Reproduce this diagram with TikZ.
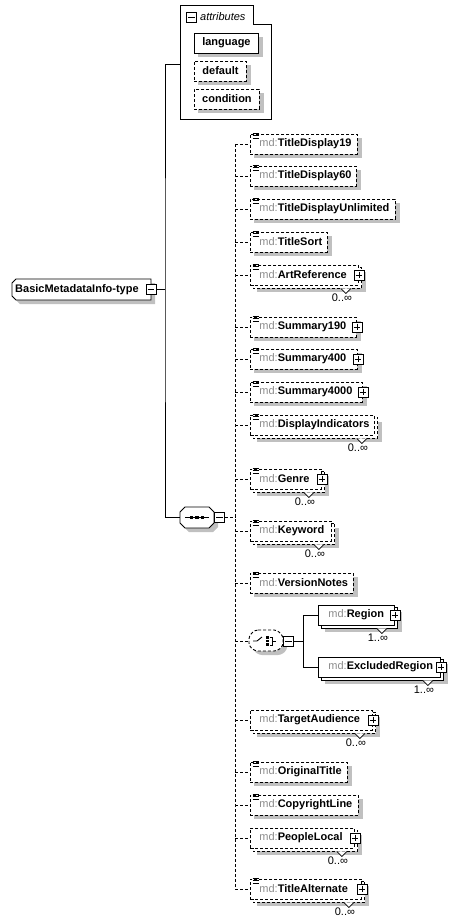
\documentclass[tikz,border=0pt]{standalone}
\usepackage{fontspec}
\setmainfont{Liberation Sans}
\usetikzlibrary{calc}
\pgfdeclarelayer{shad}
\pgfdeclarelayer{backbox}
\pgfsetlayers{shad,backbox,main}
\definecolor{shadowgray}{HTML}{C0C0C0}
\definecolor{mdgray}{HTML}{8C8C8C}
\newcommand\fsz{\fontsize{11}{13}\selectfont}
\newcommand\mdn[2]{\hspace*{#1pt}{\color{mdgray}md:}\textbf{#2}}
\tikzset{
  ln/.style={line width=0.9pt},
  dsh/.style={dash pattern=on 3pt off 2pt},
  box/.style={draw, fill=white, ln, anchor=west, inner xsep=0pt, inner ysep=0pt, minimum height=20pt, align=left, font=\fsz},
  optbox/.style={box, dsh},
  reqbox/.style={box},
  attbox/.style={draw, fill=white, ln, anchor=west, inner sep=0pt, minimum height=20pt, font=\fsz\bfseries},
  pm/.style={draw, fill=white, solid, line width=0.8pt, minimum size=10pt, inner sep=0pt},
  occ/.style={font=\fsz, inner sep=0pt},
  anchorbox/.style={inner sep=0pt, minimum width=#1},
}
\newcommand\elshadow[2]{\begin{pgfonlayer}{shad}\fill[shadowgray] ($(#1.north west)+(#2,#2)$) rectangle ($(#1.south east)+(#2,#2)$);\end{pgfonlayer}}
\newcommand\elminus[2]{%
  \node[pm] (#1) at #2 {};
  \draw[line width=0.8pt] ($(#1.west)+(2,0)$) -- ($(#1.east)+(-2,0)$);}
\newcommand\elplus[1]{%
  \node[pm] (#1p) at (#1.east) {};
  \draw[line width=0.8pt] ($(#1p.west)+(2,0)$) -- ($(#1p.east)+(-2,0)$) ($(#1p.north)+(0,2)$) -- ($(#1p.south)+(0,-2)$);}
\newcommand\eldoc[1]{%
  \draw[line width=0.7pt] ($(#1.north west)+(2.5,-0.5)$) -- ++(6,0) ($(#1.north west)+(2.5,2)$) -- ++(6,0) ($(#1.north west)+(2.5,4.5)$) -- ++(6,0);}
\newcommand\elstack[3]{%
  \begin{pgfonlayer}{backbox}
    \filldraw[ln, fill=white, #2] ($(#1.north west)+(3,3)$) rectangle ($(#1.south east)+(3,3)$);
  \end{pgfonlayer}
  \elshadow{#1}{7}%
  \filldraw[fill=white, line width=0.7pt] ($(#1.south east)+(-18,3)$) -- ++(5,5) -- ++(5,-5);
  \node[occ] (#1o) at ($(#1.south east)+(-17,12)$) {#3};}
\begin{document}
\begin{tikzpicture}[x=1pt,y=-1pt]
\useasboundingbox (0,0) rectangle (460,924);
\begin{pgfonlayer}{shad}
\fill[white] (0,0) rectangle (460,924);
\end{pgfonlayer}

% ---------- attributes container ----------
\draw[ln] (180,5) -- (253,5) -- (253,24) -- (271,24) -- (271,119) -- (180,119) -- cycle;
\coordinate (attrin) at (180,64);
\elminus{attm}{(191.5,17)}
\node[anchor=west, inner sep=0pt, font=\fsz\itshape] (attrlbl) at (200,17) {attributes};
\node[attbox, minimum width=64pt] (lang) at (194,43) {language};
\elshadow{lang}{4}
\node[attbox, dsh, minimum width=52pt] (dflt) at (194,71) {default};
\elshadow{dflt}{4}
\node[attbox, dsh, minimum width=65pt] (cond) at (194,99) {condition};
\elshadow{cond}{4}

% ---------- root complex type ----------
\node[anchor=west, inner sep=0pt, text width=139pt, minimum height=21pt, align=left, font=\fsz\bfseries] (root) at (12,289.5) {\hspace*{3pt}BasicMetadataInfo-type};
\begin{pgfonlayer}{backbox}
\filldraw[ln, fill=white] (16,279) -- (151,279) -- (151,300) -- (16,300) -- (12,296) -- (12,283) -- cycle;
\end{pgfonlayer}
\begin{pgfonlayer}{shad}
\fill[shadowgray] (20,283) -- (155,283) -- (155,304) -- (20,304) -- (16,300) -- (16,287) -- cycle;
\end{pgfonlayer}
\elminus{rootm}{(151,289.5)}
\coordinate (jn) at (165,289.5);

% ---------- sequence compositor ----------
\node[anchorbox=34pt, minimum height=21pt] (seq) at (197,517.5) {};
\begin{pgfonlayer}{backbox}
\filldraw[ln, fill=white] (185,507) -- (209,507) -- (214,512) -- (214,523) -- (209,528) -- (185,528) -- (180,523) -- (180,512) -- cycle;
\end{pgfonlayer}
\begin{pgfonlayer}{shad}
\fill[shadowgray] (189,511) -- (213,511) -- (218,516) -- (218,527) -- (213,532) -- (189,532) -- (184,527) -- (184,516) -- cycle;
\end{pgfonlayer}
\draw[line width=0.8pt] ($(seq.west)+(5,0)$) -- ($(seq.east)+(-5,0)$);
\foreach \dx in {-5.5,0,5.5} \fill ($(seq.center)+(\dx-1.75,-1.75)$) rectangle ++(3.5,3.5);
\elminus{seqm}{(219.5,517.5)}

\draw[ln] (rootm.east) -- (jn);
\draw[ln] (attrin) -| (jn) |- (seq.west);

% ---------- children ----------
\node[optbox, text width=107pt] (e1) at (250,144) {\mdn{9}{TitleDisplay19}};
\eldoc{e1}\elshadow{e1}{4}
\node[optbox, text width=106pt] (e2) at (250,176) {\mdn{9}{TitleDisplay60}};
\eldoc{e2}\elshadow{e2}{4}
\node[optbox, text width=145pt] (e3) at (250,209) {\mdn{9}{TitleDisplayUnlimited}};
\eldoc{e3}\elshadow{e3}{4}
\node[optbox, text width=77pt] (e4) at (250,242) {\mdn{9}{TitleSort}};
\eldoc{e4}\elshadow{e4}{4}
\node[optbox, text width=108pt] (e5) at (250,275) {\mdn{9}{ArtReference}};
\eldoc{e5}\elstack{e5}{dsh}{0..∞}\elplus{e5}
\node[optbox, text width=106pt] (e6) at (250,327) {\mdn{9}{Summary190}};
\eldoc{e6}\elshadow{e6}{4}\elplus{e6}
\node[optbox, text width=107pt] (e7) at (250,359) {\mdn{9}{Summary400}};
\eldoc{e7}\elshadow{e7}{4}\elplus{e7}
\node[optbox, text width=112pt] (e8) at (250,392) {\mdn{9}{Summary4000}};
\eldoc{e8}\elshadow{e8}{4}\elplus{e8}
\node[optbox, text width=124pt] (e9) at (250,425) {\mdn{9}{DisplayIndicators}};
\eldoc{e9}\elstack{e9}{dsh}{0..∞}
\node[optbox, text width=71pt] (e10) at (250,479) {\mdn{9}{Genre}};
\eldoc{e10}\elstack{e10}{dsh}{0..∞}\elplus{e10}
\node[optbox, text width=81pt] (e11) at (250,531) {\mdn{9}{Keyword}};
\eldoc{e11}\elstack{e11}{dsh}{0..∞}
\node[optbox, text width=103pt] (e12) at (250,583) {\mdn{9}{VersionNotes}};
\eldoc{e12}\elshadow{e12}{4}

% choice compositor
\node[anchorbox=34pt, minimum height=21pt] (ch) at (266,641) {};
\begin{pgfonlayer}{backbox}
\filldraw[ln, dsh, fill=white, rounded corners=3pt] (255,630) -- (277,630) -- (283,636) -- (283,646) -- (277,651) -- (255,651) -- (249,646) -- (249,636) -- cycle;
\end{pgfonlayer}
\begin{pgfonlayer}{shad}
\fill[shadowgray, rounded corners=3pt] (259,634) -- (281,634) -- (287,640) -- (287,650) -- (281,655) -- (259,655) -- (253,650) -- (253,640) -- cycle;
\end{pgfonlayer}
\draw[line width=0.9pt] (253,641) -- (257,641) -- (262,637);
\foreach \dy in {636.25,639.75,643.25} \fill (266,\dy) rectangle ++(2.5,2.5);
\draw[line width=0.8pt] (269.5,637) -- (272,637) -- (272,645) -- (269.5,645) (272,641) -- (276,641);
\elminus{chm}{(288.5,641)}
\coordinate (cbus) at (303,641);

\node[reqbox, text width=76pt] (r1) at (318,615) {\mdn{10}{Region}};
\elstack{r1}{solid}{1..∞}\elplus{r1}
\node[reqbox, text width=122pt] (r2) at (318,667) {\mdn{10}{ExcludedRegion}};
\elstack{r2}{solid}{1..∞}\elplus{r2}

\node[optbox, text width=122pt] (e13) at (250,720) {\mdn{9}{TargetAudience}};
\elstack{e13}{dsh}{0..∞}\elplus{e13}
\node[optbox, text width=97pt] (e14) at (250,772) {\mdn{9}{OriginalTitle}};
\eldoc{e14}\elshadow{e14}{4}
\node[optbox, text width=108pt] (e15) at (250,805) {\mdn{9}{CopyrightLine}};
\eldoc{e15}\elshadow{e15}{4}
\node[optbox, text width=104pt] (e16) at (250,838) {\mdn{9}{PeopleLocal}};
\elstack{e16}{dsh}{0..∞}\elplus{e16}
\node[optbox, text width=111pt] (e17) at (250,889) {\mdn{9}{TitleAlternate}};
\eldoc{e17}\elstack{e17}{dsh}{0..∞}\elplus{e17}

% ---------- connectors ----------
\coordinate (bus) at (235,517.5);
\draw[ln,dsh] (seqm.east) -- (bus);
\draw[ln,dsh] (e1.west -| bus) -- (e17.west -| bus);
\foreach \nm in {e1,e2,e3,e4,e5,e6,e7,e8,e9,e10,e11,e12,e13,e14,e15,e16,e17,ch}
  \draw[ln,dsh] (\nm.west -| bus) -- (\nm.west);
\draw[ln] (chm.east) -- (cbus);
\draw[ln] (r1.west -| cbus) -- (r2.west -| cbus);
\draw[ln] (r1.west -| cbus) -- (r1.west);
\draw[ln] (r2.west -| cbus) -- (r2.west);
\end{tikzpicture}
\end{document}
